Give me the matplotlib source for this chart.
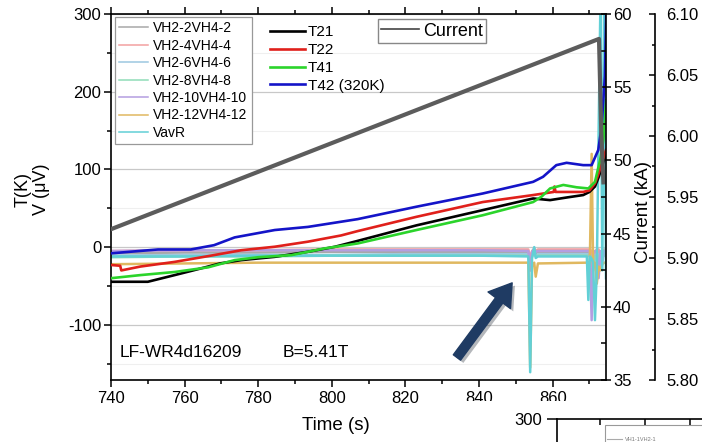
import matplotlib.pyplot as plt
import matplotlib.patheffects as pe
from matplotlib.ticker import MultipleLocator, FormatStrFormatter
from matplotlib.lines import Line2D
from matplotlib.patches import Rectangle

plt.rcParams['font.family'] = ['Liberation Sans', 'DejaVu Sans']
plt.rcParams['axes.unicode_minus'] = False

# temperatures (K)
t21_time = [740, 750, 757.3, 762.3, 766.4, 769.6, 775.4, 784.5, 793.5, 800.8, 807, 823, 841, 854.7, 859.3, 864, 868.3, 870, 871.5, 872.5, 873.5, 874.5]
t21_val = [-44.6, -44.6, -36, -30, -25, -21, -16.7, -12.5, -6, 0.4, 8, 28, 47.6, 62.6, 60.5, 64, 67, 71, 78, 90, 105, 120]

t22_time = [740, 742.5, 742.8, 748, 757.3, 766.4, 775.4, 784.5, 793.5, 802.5, 807, 823, 841, 854.7, 860.3, 860.5, 860.8, 868.3, 870, 871.5, 872.5, 873.5, 874.5]
t22_val = [-23, -24, -30, -25, -19, -11.6, -4, 0.5, 7, 15, 20.6, 39, 58, 67, 71, 78, 71, 71, 73, 82, 95, 110, 125]

t41_time = [740, 748, 757.3, 766.4, 773.6, 780, 789, 798, 807, 823, 841, 854.7, 857, 859.3, 862.9, 866.5, 869.7, 871.5, 872.9, 873.8, 874.5]
t41_val = [-40, -36, -32, -26, -16.7, -13, -10.3, -1.7, 4.7, 22, 41, 58, 65, 75.5, 80, 77, 75.5, 84, 112, 138, 189]

t42_time = [740, 752.8, 761.7, 768, 773.6, 784.5, 793.5, 807, 823, 841, 854.7, 857.4, 861, 863.8, 868.3, 870.6, 872.4, 873.3, 874.2, 874.6]
t42_val = [-8, -3, -3, 2.5, 12.5, 22, 26, 36, 52, 69, 84, 90.5, 105.5, 108.5, 105.5, 105.5, 125, 155, 220, 310]

# voltage taps (uV)
v_time = [740, 760, 780, 800, 820, 840, 853.4, 853.9, 854.4, 855.0, 855.4, 856.0,
          869.3, 869.7, 870.1, 870.6, 871.0, 871.5, 872.0, 872.5, 873.0, 873.5, 874.0, 874.5]
vh2_2 = [-8, -7, -7, -6, -6, -6, -6, -22, -8, -4, -8, -6, -6, -6, -6, -8, -30, -10, -6, -6, -20, -10, -6, -6]
vh2_4 = [-5, -4, -4, -3, -3, -3, -3, -15, -5, -2, -5, -3, -3, -3, -3, -5, -20, -6, -3, -3, -15, -5, -3, -3]
vh2_6 = [-11, -10, -10, -10, -9, -9, -9, -30, -12, -6, -12, -9, -9, -9, -9, -12, -25, -10, -9, -9, -25, -9, -9, -9]
vh2_8 = [-13, -12, -12, -11, -11, -11, -11, -28, -12, -8, -12, -11, -11, -11, -11, -14, -28, -12, -11, -11, -22, -11, -11, -11]
vh2_10 = [-5, -4, -4, -4, -4, -4, -5, -30, -6, -2, -6, -5, -5, -5, -5, -94, -8, -5, -5, -40, -5, -20, -5, -5]
vh2_12 = [-22, -21, -20, -20, -20, -20, -20, -155, -25, -20, -38, -21, -20, -20, -20, 120, -25, -20, -47, -25, -30, -22, -20, -20]
vavr = [-12, -12, -11, -11, -11, -11, -12, -161, -14, 0, -14, -12, -12, -68, -12, -15, -20, -94, -30, 150, 320, -30, 320, -40]

v_series = [vh2_2, vh2_4, vh2_6, vh2_8, vh2_10, vh2_12, vavr]
v_labels = ['VH2-2VH4-2', 'VH2-4VH4-4', 'VH2-6VH4-6', 'VH2-8VH4-8', 'VH2-10VH4-10', 'VH2-12VH4-12', 'VavR']
v_colors = ['#a8a8a8', '#f2a0a0', '#9cc8e0', '#90dcb8', '#b49ee0', '#e0b860', '#62d0d6']

# magnet current (kA)
cur_time = [740, 872.6, 873.2, 873.8]
cur_val = [45.3, 58.3, 52, 48.5]

fig = plt.figure(figsize=(7.02, 4.42), dpi=100)
ax = fig.add_axes([111/702, 1-380/442, 495/702, 366/442])

for vals, lab, col in zip(v_series, v_labels, v_colors):
    ax.plot(v_time, vals, color=col, lw=1.8, zorder=2)

ax.plot(t21_time, t21_val, color='black', lw=1.9, label='T21', zorder=3)
ax.plot(t22_time, t22_val, color='#e0201b', lw=1.9, label='T22', zorder=3)
ax.plot(t41_time, t41_val, color='#2bd42b', lw=1.9, label='T41', zorder=3)
ax.plot(t42_time, t42_val, color='#1414c8', lw=1.9, label='T42 (320K)', zorder=3)

ax.set_xlim(740, 874.5)
ax.set_ylim(-171, 300)
ax.xaxis.set_major_locator(MultipleLocator(20))
ax.xaxis.set_minor_locator(MultipleLocator(10))
ax.yaxis.set_major_locator(MultipleLocator(100))
ax.yaxis.set_minor_locator(MultipleLocator(50))
ax.grid(axis='y', which='major', color='#c8c8c8', lw=0.9)
ax.grid(axis='y', which='minor', color='#efefef', lw=0.8)
ax.set_axisbelow(True)
ax.tick_params(axis='both', which='both', labelsize=12, width=1.1)
ax.tick_params(axis='y', which='major', direction='out', length=5, pad=2)
ax.tick_params(axis='y', which='minor', direction='out', length=3)
ax.tick_params(axis='x', which='major', direction='out', length=5, pad=3, top=True)
ax.tick_params(axis='x', which='minor', direction='out', length=3, top=True)
for sp in ax.spines.values():
    sp.set_linewidth(1.2)
ax.spines['right'].set_visible(False)

ax.set_xlabel('Time (s)', fontsize=13.5)
ax.xaxis.set_label_coords(0.455, -0.1)
ax.set_ylabel('T(K)\nV (\u03bcV)', fontsize=13, linespacing=1.15)
ax.yaxis.set_label_coords(-0.123, 0.52)

v_handles = [Line2D([], [], color=c, lw=1.1) for c in v_colors]
leg1 = ax.legend(v_handles, v_labels, loc='upper left', bbox_to_anchor=(0.008, 0.992),
                 fontsize=10, frameon=True, fancybox=False, edgecolor='#999999', framealpha=1,
                 handlelength=2.1, handletextpad=0.35, labelspacing=0.25, borderpad=0.3,
                 borderaxespad=0)
leg1.get_frame().set_linewidth(0.9)
ax.add_artist(leg1)
ax.legend(loc='upper left', bbox_to_anchor=(0.321, 0.969), fontsize=11, frameon=False,
          handlelength=2.3, handletextpad=0.2, labelspacing=0.25, borderpad=0, borderaxespad=0)

ax.text(0.018, 0.074, 'LF-WR4d16209', transform=ax.transAxes, fontsize=12.5, va='center')
ax.text(0.347, 0.074, 'B=5.41T', transform=ax.transAxes, fontsize=12.5, va='center')

ax.annotate('', xy=(849, -46), xytext=(834, -142),
            arrowprops=dict(arrowstyle='simple,head_length=1.2,head_width=1.55,tail_width=0.5',
                            mutation_scale=13, color='#1f3b63', shrinkA=0, shrinkB=0,
                            path_effects=[pe.withSimplePatchShadow(offset=(2, -2), alpha=0.3)]),
            zorder=6)

# current axis
ax_cur = ax.twinx()
ax_cur.plot(cur_time, cur_val, color='#5c5c5c', lw=3, zorder=2)
ax_cur.set_ylim(35, 60)
ax_cur.yaxis.set_major_locator(MultipleLocator(5))
ax_cur.yaxis.set_minor_locator(MultipleLocator(2.5))
ax_cur.tick_params(axis='y', which='major', direction='inout', length=7, width=1.1, labelsize=12, pad=1.5)
ax_cur.tick_params(axis='y', which='minor', direction='in', length=3.5, width=1.1)
for sp in ax_cur.spines.values():
    sp.set_visible(False)
ax_cur.spines['right'].set_visible(True)
ax_cur.spines['right'].set_linewidth(1.2)
ax_cur.set_ylabel('Current (kA)', fontsize=13.5)
ax_cur.yaxis.set_label_coords(1.058, 0.459)
ax_cur.legend([Line2D([], [], color='#444444', lw=1.2)], ['Current'], loc='upper left',
              bbox_to_anchor=(0.539, 0.986), fontsize=13, frameon=True, fancybox=False,
              edgecolor='#888888', framealpha=1, handlelength=2.1, handletextpad=0.2,
              borderpad=0.2, borderaxespad=0)

# third scale on the far right
ax_b = ax.twinx()
ax_b.set_ylim(5.80, 6.10)
ax_b.yaxis.set_major_locator(MultipleLocator(0.05))
ax_b.yaxis.set_minor_locator(MultipleLocator(0.025))
ax_b.yaxis.set_major_formatter(FormatStrFormatter('%.2f'))
for sp in ax_b.spines.values():
    sp.set_visible(False)
ax_b.spines['right'].set_visible(True)
ax_b.spines['right'].set_position(('axes', (655-111)/495))
ax_b.spines['right'].set_linewidth(1.2)
ax_b.tick_params(axis='y', which='major', direction='in', length=4, width=1.1, labelsize=12, pad=8)
ax_b.tick_params(axis='y', which='minor', direction='in', length=2.5, width=1.1)

# corner of the next chart, pasted over the lower right
fig.add_artist(Rectangle((445/702, 0), 257/702, 41/442, transform=fig.transFigure,
                         facecolor='white', edgecolor='none', zorder=5))
ax2 = fig.add_axes([557/702, -0.5, 0.3, 0.5 + 23/442])
ax2.set_zorder(6)
ax2.set_xlim(0, 1)
ax2.set_ylim(-150, 300)
ax2.set_yticks([300])
ax2.set_xticks([43/210.6, 88/210.6, 133/210.6, 178/210.6])
ax2.tick_params(axis='y', direction='out', length=7, width=1.1, labelsize=12, pad=4)
ax2.tick_params(axis='x', top=True, bottom=False, labelbottom=False, direction='in', length=4, width=1.1)
for sp in ax2.spines.values():
    sp.set_linewidth(1.2)
ax2.add_patch(Rectangle((0.228, 0.5), 0.9, 0.475, transform=ax2.transAxes, facecolor='white',
                        edgecolor='#999999', lw=0.8, clip_on=False))
ax2.plot([0.236, 0.31], [0.918, 0.918], transform=ax2.transAxes, color='#aaaaaa', lw=0.8, clip_on=False)
ax2.text(0.323, 0.918, 'VH1-1VH2-1', transform=ax2.transAxes, fontsize=4, color='#777777', va='center')

fig.savefig('out.png', dpi=100)
